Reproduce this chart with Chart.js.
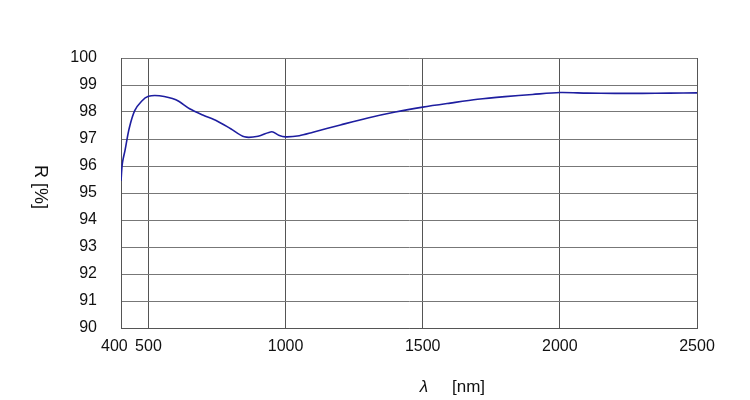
<!DOCTYPE html>
<html>
<head>
<meta charset="utf-8">
<script src="https://cdn.jsdelivr.net/npm/chart.js@4"></script>
<style>
  html, body { margin: 0; padding: 0; background: #fff; }
  #wrap { width: 750px; height: 400px; }
</style>
</head>
<body>
<div id="wrap"><canvas id="myChart"></canvas></div>
<script>
// wavelength [nm]
const wavelengths = [400, 405, 415, 430, 450, 475, 500, 540, 600, 650, 700, 750, 800, 850, 900, 950, 975, 1000, 1050, 1100, 1200, 1300, 1400, 1500, 1600, 1700, 1800, 1900, 2000, 2100, 2200, 2300, 2400, 2500];
// reflectance R [%]
const reflectance = [95.45, 96.1, 96.6, 97.4, 98.05, 98.4, 98.58, 98.6, 98.45, 98.12, 97.88, 97.67, 97.38, 97.08, 97.1, 97.27, 97.14, 97.08, 97.12, 97.25, 97.52, 97.78, 98.0, 98.18, 98.33, 98.47, 98.57, 98.65, 98.72, 98.7, 98.69, 98.69, 98.7, 98.71];
const xTicks = [400, 500, 1000, 1500, 2000, 2500];
const yMin = 90, yMax = 100;

const FONT = 'Liberation Sans, Arial, sans-serif';

// axis titles (y title reads top to bottom)
const titles = {
    id: 'titles',
    afterDraw(chart) {
        const ctx = chart.ctx;
        ctx.save();
        ctx.fillStyle = '#111';
        ctx.textBaseline = 'middle';
        ctx.textAlign = 'center';
        ctx.font = 'italic 17px ' + FONT;
        ctx.fillText('λ', 424, 387);
        ctx.font = '17px ' + FONT;
        ctx.textAlign = 'left';
        ctx.fillText('[nm]', 452, 387);
        ctx.translate(40, 187);
        ctx.rotate(Math.PI / 2);
        ctx.textAlign = 'center';
        ctx.font = '18px ' + FONT;
        ctx.fillText('R [%]', 0, 0);
        ctx.restore();
    }
};

const data = {
    datasets: [{
        data: wavelengths.map((w, i) => ({ x: w, y: reflectance[i] })),
        borderColor: 'rgb(30, 30, 160)',
        borderWidth: 1.6,
        pointRadius: 0,
        fill: false,
        tension: 0.3
    }]
};

const config = {
    type: 'line',
    data: data,
    options: {
        responsive: false,
        animation: false,
        layout: {
            padding: { left: 0, right: 53, top: 58, bottom: 0 }
        },
        plugins: {
            legend: { display: false },
            tooltip: { enabled: false }
        },
        scales: {
            x: {
                type: 'linear',
                min: 400,
                max: 2500,
                afterBuildTicks: (scale) => {
                    scale.ticks = xTicks.map(v => ({ value: v }));
                },
                afterFit: (scale) => { scale.height = 72; },
                grid: { color: '#555', lineWidth: 1, drawTicks: false },
                border: { color: '#555' },
                ticks: {
                    color: '#111',
                    padding: 9,
                    maxRotation: 0,
                    autoSkip: false,
                    font: { family: FONT, size: 16 },
                    // nudge the first label left so it clears "500"
                    callback: (v) => v === 400 ? '400   ' : String(v)
                }
            },
            y: {
                min: yMin,
                max: yMax,
                afterFit: (scale) => { scale.width = 121; },
                grid: { color: '#777', lineWidth: 1, drawTicks: false },
                border: { color: '#555' },
                ticks: {
                    stepSize: 1,
                    color: '#111',
                    padding: 24,
                    font: { family: FONT, size: 16 },
                    callback: (v) => String(v)
                }
            }
        }
    },
    plugins: [titles]
};

const canvas = document.getElementById('myChart');
canvas.width = 750;
canvas.height = 400;
const myChart = new Chart(canvas, config);
</script>
</body>
</html>
